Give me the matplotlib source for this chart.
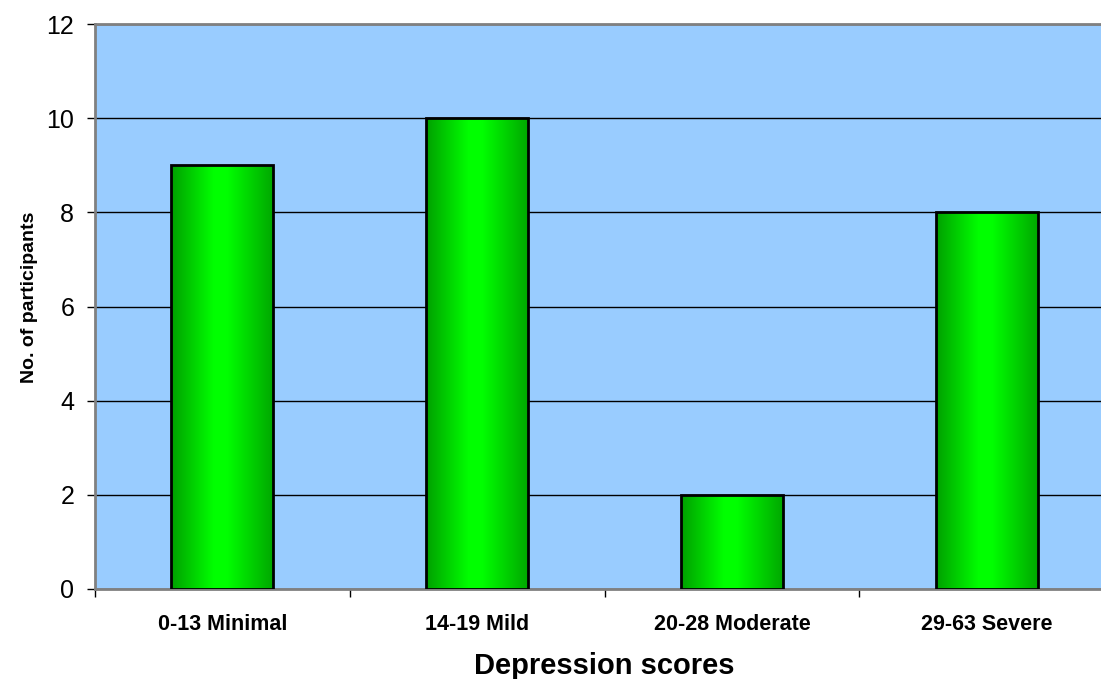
import numpy as np
import matplotlib.pyplot as plt
from matplotlib.colors import LinearSegmentedColormap

categories = ['0-13 Minimal', '14-19 Mild', '20-28 Moderate', '29-63 Severe']
participants = [9, 10, 2, 8]

plt.rcParams['font.family'] = ['Liberation Sans', 'DejaVu Sans']

fig = plt.figure(figsize=(11.01, 6.79), dpi=100)
ax = fig.add_axes([95/1101, 90/679, 1019/1101, 565/679])
ax.set_facecolor('#99ccff')

x = np.arange(len(categories))
width = 0.40
bars = ax.bar(x, participants, width=width, facecolor='none',
              edgecolor='black', linewidth=2, zorder=4)

# horizontal green gradient inside each bar
cmap = LinearSegmentedColormap.from_list(
    'bar', [(0.0, '#00a000'), (0.42, '#00ff00'), (0.55, '#00ff00'), (1.0, '#00a800')])
grad = np.linspace(0, 1, 256).reshape(1, -1)
for b in bars:
    x0, y0 = b.get_x(), b.get_y()
    im = ax.imshow(grad, cmap=cmap, aspect='auto', zorder=3,
                   extent=[x0, x0 + b.get_width(), y0, y0 + b.get_height()])
    im.set_clip_path(b)

ax.set_xlim(-0.5, len(categories) - 0.5)
ax.set_ylim(0, 12)
ax.set_yticks(range(0, 13, 2))
ax.yaxis.grid(True, color='black', linewidth=1)
ax.set_axisbelow(True)

ax.set_xticks(x)
ax.set_xticklabels(categories, fontsize=15.5, fontweight='bold')
ax.set_xticks(np.arange(-0.5, len(categories)), minor=True)
ax.tick_params(axis='x', which='major', length=0, pad=18)
ax.tick_params(axis='x', which='minor', length=6, color='black', width=1)
ax.tick_params(axis='y', labelsize=18, length=6, width=1, pad=9)

for side in ['top', 'left', 'bottom']:
    ax.spines[side].set_color('#808080')
    ax.spines[side].set_linewidth(2)
ax.spines['right'].set_visible(False)

ax.set_ylabel('No. of participants', fontsize=14, fontweight='bold', labelpad=6)
ax.yaxis.label.set_y(0.517)
ax.set_xlabel('Depression scores', fontsize=21, fontweight='bold', labelpad=12)

plt.savefig('out.png', dpi=100)
